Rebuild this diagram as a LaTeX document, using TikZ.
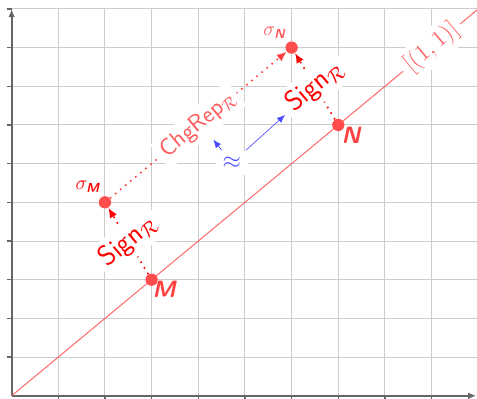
\documentclass[tikz,border=0pt]{standalone}
\usepackage{amsmath}
\usepackage{amssymb}
\usetikzlibrary{arrows.meta, calc}

\begin{document}
\begin{tikzpicture}[x=1cm,y=0.829cm,
    gridline/.style={gray!40,line width=0.6pt},
    axisline/.style={black!60,line width=1.1pt},
    pnt/.style={circle,fill=red!70,inner sep=0pt,minimum size=7.5pt},
    lbl/.style={fill=white,rotate=40,inner sep=3pt,font=\Large\sffamily},
    arr/.style={line width=1pt,dash pattern=on 1pt off 3pt,-{Latex[length=6pt,width=5pt]}},
    ptname/.style={font=\Large\sffamily\bfseries\itshape,text=red!75,inner sep=1pt}]
  \useasboundingbox (-0.249,-0.078) rectangle (9.972,10.23);
  % grid and axes
  \foreach \i in {1,...,10} {
    \draw[gridline] (\i,0) -- (\i,10);
    \draw[gridline] (0,\i) -- (10,\i);
    \draw[axisline,line width=0.8pt] (\i,0) -- (\i,-0.1);
    \draw[axisline,line width=0.8pt] (0,\i) -- (-0.1,\i);
  }
  \draw[axisline,-{Latex[length=5pt,width=4pt]}] (0,0) -- (9.96,0);
  \draw[axisline,-{Latex[length=5pt,width=4pt]}] (0,0) -- (0,10);
  % diagonal
  \draw[red!60,line width=0.6pt] (0,0) -- (10,10)
        node[pos=0.9,lbl,text=red!60] (diag) {$[(1,1)]$};
  % points
  \node[pnt] (M) at (3,3) {};
  \node[pnt] (N) at (7,7) {};
  \node[pnt] (sM) at (2,5) {};
  \node[pnt] (sN) at (6,9) {};
  \node[ptname] (Mname) at (3.27,2.74) {M};
  \node[ptname] (Nname) at (7.27,6.74) {N};
  \node[text=red,font=\large,inner sep=1pt] (sMname) at (1.64,5.4)
        {$\sigma_{\textsf{\textbf{\textit{M}}}}$};
  \node[text=red!65,font=\large,inner sep=1pt] (sNname) at (5.64,9.38)
        {$\sigma_{\textsf{\textbf{\textit{N}}}}$};
  % arrows
  \draw[arr,red] (M) -- node[lbl,text=red,font=\LARGE\sffamily] (signM) {Sign$_{\mathcal{R}}$} (sM);
  \draw[arr,red] (N) -- node[lbl,text=red,font=\LARGE\sffamily] (signN) {Sign$_{\mathcal{R}}$} (sN);
  \draw[arr,red!75] (sM) -- node[lbl,text=red!65] (chg) {ChgRep$_{\mathcal{R}}$} (sN);
  % commutation
  \node[fill=white,inner sep=4pt,font=\Large,text=blue!70] (approx) at (4.72,6.02) {$\approx$};
  \draw[blue!70,-{Latex[length=5pt,width=4pt]}] (approx) -- (4.32,6.62);
  \draw[blue!70,-{Latex[length=5pt,width=4pt]}] (approx) -- (5.86,7.26);
\end{tikzpicture}
\end{document}
